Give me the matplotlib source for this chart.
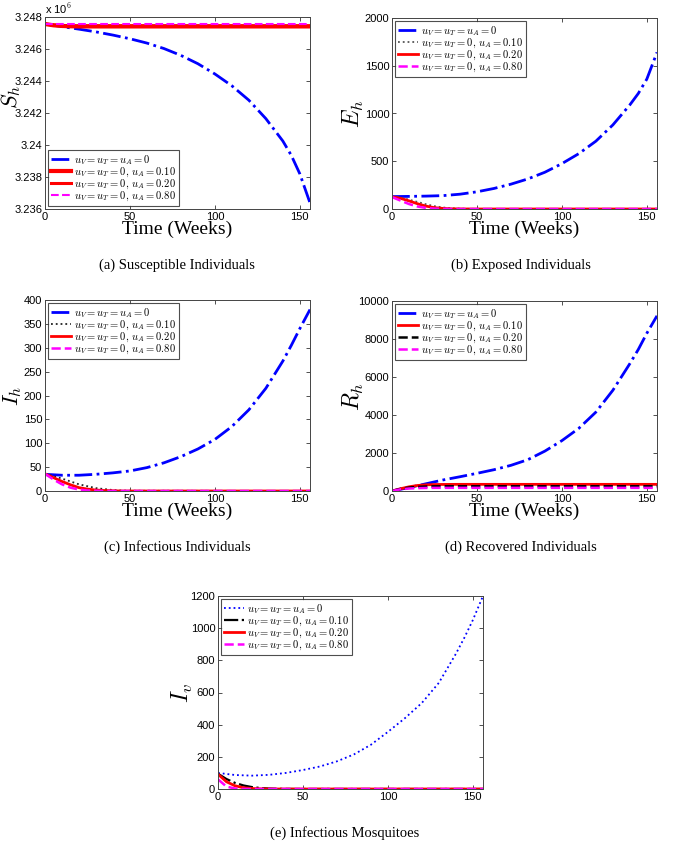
import matplotlib
matplotlib.use("Agg")
import matplotlib.pyplot as plt
from matplotlib.ticker import FuncFormatter

plt.rcParams['font.family'] = ['Liberation Sans', 'DejaVu Sans']
plt.rcParams['mathtext.fontset'] = 'cm'

# ---------------- data ----------------
t_base = [0, 10, 20, 30, 40, 50, 60, 70, 80, 90, 100, 110, 120, 130, 140, 145, 150, 156]
t_ctrl = [0, 5, 10, 15, 20, 25, 30, 35, 40, 45, 50, 156]

labels = [r'$u_V = u_T = u_A = 0$', r'$u_V = u_T = 0,\, u_A = 0.10$',
          r'$u_V = u_T = 0,\, u_A = 0.20$', r'$u_V = u_T = 0,\, u_A = 0.80$']

# (a) Susceptible individuals
S_base = [3.24756e6, 3.24740e6, 3.24724e6, 3.24707e6, 3.24687e6, 3.24664e6, 3.24637e6, 3.24603e6,
          3.24560e6, 3.24508e6, 3.24444e6, 3.24370e6, 3.24280e6, 3.24165e6, 3.24025e6, 3.23935e6,
          3.23820e6, 3.23638e6]
S_010 = [3.24756e6, 3.24748e6, 3.24744e6, 3.24742e6, 3.24741e6, 3.24741e6, 3.24741e6, 3.24741e6,
         3.24741e6, 3.24741e6, 3.24741e6, 3.24741e6]
S_020 = [3.24756e6, 3.24750e6, 3.24747e6, 3.24745e6, 3.24745e6, 3.24745e6, 3.24745e6, 3.24745e6,
         3.24745e6, 3.24745e6, 3.24745e6, 3.24745e6]
S_080 = [3.24756e6, 3.24756e6, 3.24756e6, 3.24756e6, 3.24756e6, 3.24756e6, 3.24756e6, 3.24756e6,
         3.24756e6, 3.24756e6, 3.24756e6, 3.24756e6]

# (b) Exposed individuals
E_base = [130, 132, 135, 140, 155, 180, 215, 260, 315, 385, 475, 580, 710, 880, 1090, 1210, 1360, 1640]
E_010 = [128, 118, 98, 74, 50, 30, 16, 8, 4, 2, 1, 0]
E_020 = [128, 112, 85, 55, 30, 14, 6, 2, 1, 0, 0, 0]
E_080 = [125, 88, 52, 26, 11, 4, 1, 0, 0, 0, 0, 0]

# (c) Infectious individuals
I_base = [35, 33, 33, 35, 38, 42, 49, 59, 72, 88, 108, 135, 170, 215, 272, 305, 340, 380]
I_010 = [36, 31, 26, 20, 14, 10, 6, 4, 2, 1, 0.5, 0]
I_020 = [36, 28, 20, 13, 7, 4, 2, 1, 0.5, 0, 0, 0]
I_080 = [36, 24, 14, 7, 3, 1, 0.5, 0, 0, 0, 0, 0]

# (d) Recovered individuals
R_base = [0, 180, 380, 580, 750, 930, 1120, 1350, 1650, 2100, 2650, 3300, 4150, 5300, 6700, 7450, 8300, 9220]
R_010 = [0, 120, 220, 290, 325, 340, 345, 348, 350, 350, 350, 350]
R_020 = [0, 110, 180, 215, 235, 245, 250, 250, 250, 250, 250, 250]
R_080 = [0, 90, 130, 150, 160, 165, 165, 165, 165, 165, 165, 165]

# (e) Infectious mosquitoes
Iv_base = [100, 87, 83, 88, 100, 118, 140, 172, 215, 275, 355, 440, 535, 660, 840, 940, 1050, 1200]
Iv_010 = [95, 62, 38, 22, 12, 6, 3, 1.5, 0.5, 0, 0, 0]
Iv_020 = [92, 45, 20, 8, 3, 1, 0, 0, 0, 0, 0, 0]
Iv_080 = [60, 15, 3, 0.5, 0, 0, 0, 0, 0, 0, 0, 0]

captions = ['(a) Susceptible Individuals', '(b) Exposed Individuals',
            '(c) Infectious Individuals', '(d) Recovered Individuals',
            '(e) Infectious Mosquitoes']

# ---------------- figure ----------------
W, H = 690, 843
fig = plt.figure(figsize=(W / 100, H / 100), dpi=100)


def add_ax(x0, y0, x1, y1):
    return fig.add_axes([x0 / W, 1 - y1 / H, (x1 - x0) / W, (y1 - y0) / H])


def style(ax, ylim, yticks, ylabel, xlabel=True, ylab_x=-0.1, ylab_y=0.5, ylab_fs=17):
    ax.set_xlim(0, 156)
    ax.set_ylim(*ylim)
    ax.set_xticks([0, 50, 100, 150])
    ax.set_yticks(yticks)
    ax.tick_params(direction='in', top=True, right=True, labelsize=8, length=3,
                   width=0.6, color='#333333', pad=2)
    for s in ax.spines.values():
        s.set_linewidth(0.7)
        s.set_color('#444444')
    ax.set_ylabel(ylabel, fontsize=ylab_fs)
    ax.yaxis.set_label_coords(ylab_x, ylab_y)
    if xlabel:
        ax.set_xlabel('Time (Weeks)', fontsize=14, family='Liberation Serif', labelpad=-1)


def legend(ax, loc):
    leg = ax.legend(loc=loc, fontsize=7.6, frameon=True, fancybox=False, edgecolor='#222222',
                    handlelength=1.9, handletextpad=0.3, labelspacing=-0.12, borderpad=0.3,
                    borderaxespad=0.25)
    leg.get_frame().set_linewidth(0.8)


blue = (0, 0, 1)
red = (1, 0, 0)
mag = (1, 0, 1)

# (a)
ax = add_ax(45, 17, 310, 209)
ax.plot(t_base, S_base, '-.', color=blue, lw=2.0, label=labels[0])
ax.plot(t_ctrl, S_010, '-', color=red, lw=3.0, label=labels[1])
ax.plot(t_ctrl, S_020, '-', color=red, lw=2.2, label=labels[2])
ax.plot(t_ctrl, S_080, '--', color=mag, lw=1.5, label=labels[3])
style(ax, (3.236e6, 3.248e6), [3.236e6 + i * 0.002e6 for i in range(7)], r'$S_h$',
      ylab_x=-0.083, ylab_y=0.585, ylab_fs=16)
ax.yaxis.set_major_formatter(FuncFormatter(lambda v, p: f"{v / 1e6:.3f}".rstrip('0').rstrip('.')))
ax.text(0.0, 1.005, r'x 10$^{6}$', transform=ax.transAxes, fontsize=8, ha='left', va='bottom')
legend(ax, 'lower left')

# (b)
ax = add_ax(392, 18, 657, 209)
ax.plot(t_base, E_base, '-.', color=blue, lw=2.0, label=labels[0])
ax.plot(t_ctrl, E_010, ':', color='#555555', lw=1.3, label=labels[1])
ax.plot(t_ctrl, E_020, '-', color=red, lw=2.0, label=labels[2])
ax.plot(t_ctrl, E_080, '--', color=mag, lw=1.8, label=labels[3])
style(ax, (0, 2000), [0, 500, 1000, 1500, 2000], r'$E_h$', ylab_x=-0.1)
legend(ax, 'upper left')

# (c)
ax = add_ax(45, 300, 310, 491)
ax.plot(t_base, I_base, '-.', color=blue, lw=2.0, label=labels[0])
ax.plot(t_ctrl, I_010, ':', color='#222222', lw=1.3, label=labels[1])
ax.plot(t_ctrl, I_020, '-', color=red, lw=2.0, label=labels[2])
ax.plot(t_ctrl, I_080, '--', color=mag, lw=1.8, label=labels[3])
style(ax, (0, 400), list(range(0, 401, 50)), r'$I_h$', ylab_x=-0.08, ylab_fs=16)
legend(ax, 'upper left')

# (d)
ax = add_ax(392, 301, 657, 491)
ax.plot(t_base, R_base, '-.', color=blue, lw=2.0, label=labels[0])
ax.plot(t_ctrl, R_010, '-', color=red, lw=2.0, label=labels[1])
ax.plot(t_ctrl, R_020, '--', color='black', lw=1.8, label=labels[2])
ax.plot(t_ctrl, R_080, '--', color=mag, lw=1.8, label=labels[3])
style(ax, (0, 10000), [0, 2000, 4000, 6000, 8000, 10000], r'$R_h$', ylab_x=-0.1)
legend(ax, 'upper left')

# (e)
ax = add_ax(218, 596, 483, 789)
ax.plot(t_base, Iv_base, ':', color=blue, lw=1.3, label=labels[0])
ax.plot(t_ctrl, Iv_010, '-.', color='black', lw=1.6, label=labels[1])
ax.plot(t_ctrl, Iv_020, '-', color=red, lw=2.0, label=labels[2])
ax.plot(t_ctrl, Iv_080, '--', color=mag, lw=1.8, label=labels[3])
style(ax, (0, 1200), [0, 200, 400, 600, 800, 1000, 1200], r'$I_v$', xlabel=False, ylab_x=-0.087)
legend(ax, 'upper left')

# captions
cap_pos = [(177, 265), (521, 265), (177, 547), (521, 547), (345, 833)]
for (cx, cy), c in zip(cap_pos, captions):
    fig.text(cx / W, 1 - cy / H, c, ha='center', va='center', fontsize=10.5,
             family='Liberation Serif')

fig.savefig('out.png', dpi=100)
